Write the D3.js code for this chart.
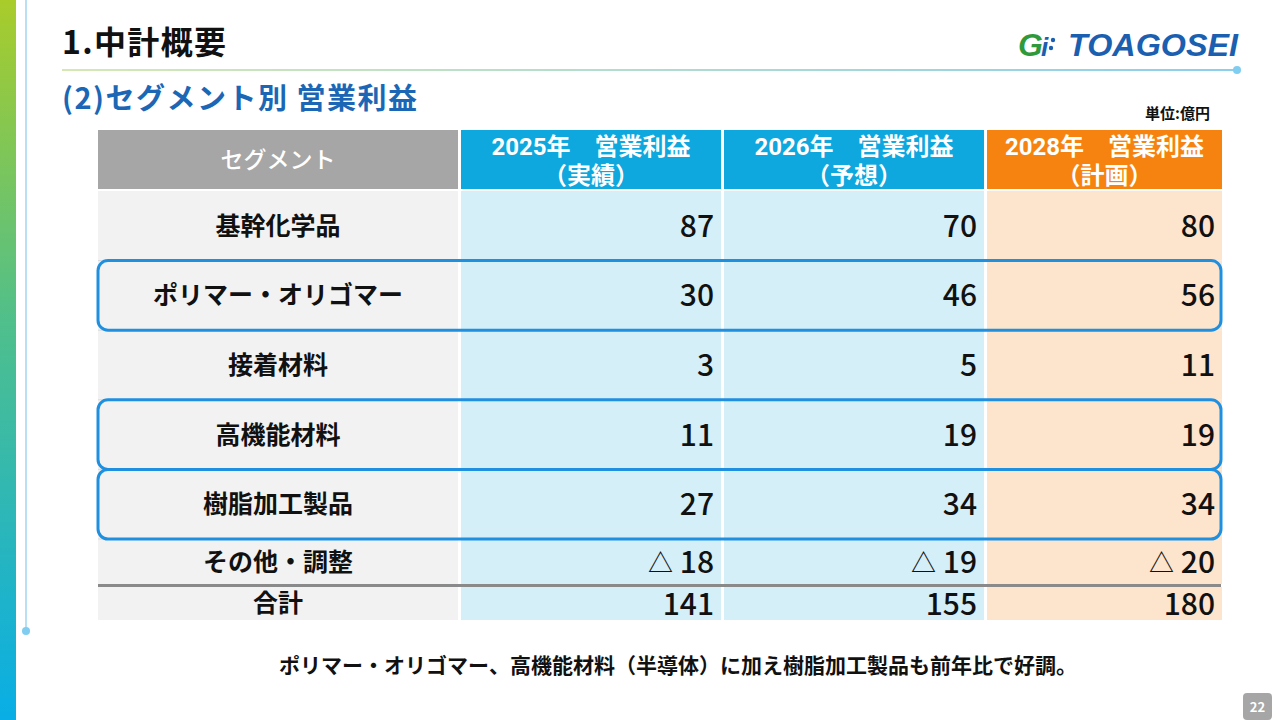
<!DOCTYPE html>
<html>
<head>
<meta charset="utf-8">
<script src="https://cdn.jsdelivr.net/npm/d3@7"></script>
<style>
  html, body { margin: 0; padding: 0; background: #fff; }
  svg { display: block; font-family: "Noto Sans CJK JP", "Noto Sans", sans-serif; }
</style>
</head>
<body>
<div id="slide"></div>
<script>
const W = 1280;
const H = 720;

// data
const columns = ["セグメント", "2025年　営業利益", "2026年　営業利益", "2028年　営業利益"];
const columnNotes = ["", "（実績）", "（予想）", "（計画）"];
const segments = ["基幹化学品", "ポリマー・オリゴマー", "接着材料", "高機能材料", "樹脂加工製品", "その他・調整"];
const profit2025 = [87, 30, 3, 11, 27, -18];
const profit2026 = [70, 46, 5, 19, 34, -19];
const profit2028 = [80, 56, 11, 19, 34, -20];
const totals = [141, 155, 180];
const highlighted = ["ポリマー・オリゴマー", "高機能材料", "樹脂加工製品"];

const svg = d3.select("#slide")
    .append("svg")
    .attr("width", W)
    .attr("height", H);

const defs = svg.append("defs");

// left side bar
const sideGrad = defs.append("linearGradient")
    .attr("id", "side-grad")
    .attr("x1", 0).attr("y1", 0).attr("x2", 0).attr("y2", 1);
sideGrad.append("stop").attr("offset", "0%").attr("stop-color", "#a9cc2a");
sideGrad.append("stop").attr("offset", "45%").attr("stop-color", "#4fbf8c");
sideGrad.append("stop").attr("offset", "100%").attr("stop-color", "#08aee6");

svg.append("rect")
    .attr("x", 0).attr("y", 0)
    .attr("width", 16).attr("height", H)
    .attr("fill", "url(#side-grad)");

svg.append("line")
    .attr("x1", 26).attr("x2", 26)
    .attr("y1", 0).attr("y2", 631)
    .attr("stroke", "#9fd6f0").attr("stroke-width", 1.5);
svg.append("circle")
    .attr("cx", 26).attr("cy", 631).attr("r", 4)
    .attr("fill", "#7fcdf0");

// title area
svg.append("text")
    .attr("x", 62).attr("y", 54)
    .attr("font-size", 32).attr("font-weight", 700)
    .attr("fill", "#111")
    .attr("textLength", 164)
    .text("1.中計概要");

const ruleGrad = defs.append("linearGradient").attr("id", "rule-grad");
ruleGrad.append("stop").attr("offset", "0%").attr("stop-color", "#d4e8b4");
ruleGrad.append("stop").attr("offset", "100%").attr("stop-color", "#8bcfec");

svg.append("rect")
    .attr("x", 62).attr("y", 69)
    .attr("width", 1175).attr("height", 2)
    .attr("fill", "url(#rule-grad)");
svg.append("circle")
    .attr("cx", 1237).attr("cy", 70).attr("r", 4)
    .attr("fill", "#7fcdf0");

svg.append("text")
    .attr("x", 62).attr("y", 109)
    .attr("font-size", 29).attr("font-weight", 700)
    .attr("fill", "#1b67b5")
    .attr("textLength", 355)
    .text("(2)セグメント別 営業利益");

// logo
const logo = svg.append("g");
const mark = logo.append("text")
    .attr("x", 1018).attr("y", 56)
    .attr("font-family", "Liberation Sans")
    .attr("font-weight", 700).attr("font-style", "italic");
mark.append("tspan").attr("font-size", 32).attr("fill", "#2e9a3c").text("G");
mark.append("tspan").attr("font-size", 26).attr("fill", "#1a5fb0").attr("dx", -2).text("i");
logo.append("circle")
    .attr("cx", 1053).attr("cy", 40).attr("r", 2.2)
    .attr("fill", "#1a5fb0");
logo.append("circle")
    .attr("cx", 1051).attr("cy", 48).attr("r", 2.2)
    .attr("fill", "#1a5fb0");
logo.append("text")
    .attr("x", 1068).attr("y", 56)
    .attr("font-family", "Liberation Sans")
    .attr("font-size", 31).attr("font-weight", 700).attr("font-style", "italic")
    .attr("fill", "#1a5fb0")
    .attr("textLength", 170)
    .attr("lengthAdjust", "spacingAndGlyphs")
    .text("TOAGOSEI");

svg.append("text")
    .attr("x", 1210).attr("y", 119)
    .attr("text-anchor", "end")
    .attr("font-size", 15).attr("font-weight", 700)
    .attr("fill", "#111")
    .text("単位:億円");

// table layout
const colLeft = d3.scaleOrdinal().domain(d3.range(4)).range([98, 461, 724, 987]);
const colWidth = d3.scaleOrdinal().domain(d3.range(4)).range([360, 260, 260, 235]);
const headFill = ["#a6a6a6", "#0ea7de", "#0ea7de", "#f6830f"];
const bodyFill = ["#f2f2f2", "#d5eff9", "#d5eff9", "#fde4cc"];

const headTop = 130, headH = 59;
const mainRows = segments.slice(0, 5);
const rowY = d3.scaleBand().domain(mainRows).range([191, 539]);
const otherTop = 539, otherH = 45;
const totalTop = 587, totalH = 33;

function rowTop(seg) { return mainRows.includes(seg) ? rowY(seg) : otherTop; }
function rowHeight(seg) { return mainRows.includes(seg) ? rowY.bandwidth() : otherH; }

// value text: negatives get a small triangle mark
function writeValue(sel, v) {
    if (v < 0) {
        sel.append("tspan").attr("font-size", 25).attr("dy", -1).text("△");
        sel.append("tspan").attr("dy", 1).text(" " + Math.abs(v));
    } else {
        sel.text(v);
    }
}

const table = svg.append("g");

// header cells
const head = table.selectAll("g.head")
    .data(columns)
    .enter().append("g").attr("class", "head");

head.append("rect")
    .attr("x", (d, i) => colLeft(i))
    .attr("y", headTop)
    .attr("width", (d, i) => colWidth(i))
    .attr("height", headH)
    .attr("fill", (d, i) => headFill[i]);

head.each(function (d, i) {
    const cx = colLeft(i) + colWidth(i) / 2;
    const t = d3.select(this).append("text")
        .attr("text-anchor", "middle")
        .attr("fill", "#fff");
    if (i === 0) {
        t.attr("x", cx).attr("y", headTop + headH / 2 + 8)
            .attr("font-size", 23).attr("font-weight", 500)
            .text(d);
    } else {
        t.attr("font-family", "Roboto, 'Noto Sans CJK JP', sans-serif")
            .attr("font-size", 24).attr("font-weight", 700);
        t.append("tspan").attr("x", cx).attr("y", headTop + 25).text(d);
        t.append("tspan").attr("x", cx).attr("y", headTop + 54).text(columnNotes[i]);
    }
});

// body cells
const series = [segments, profit2025, profit2026, profit2028];

series.forEach((vals, ci) => {
    table.selectAll(null)
        .data(segments)
        .enter().append("rect")
        .attr("x", colLeft(ci))
        .attr("y", d => rowTop(d))
        .attr("width", colWidth(ci))
        .attr("height", d => rowHeight(d))
        .attr("fill", bodyFill[ci]);

    table.selectAll(null)
        .data(segments)
        .enter().append("text")
        .attr("x", ci === 0 ? colLeft(ci) + colWidth(ci) / 2 : colLeft(ci) + colWidth(ci) - 7)
        .attr("y", d => rowTop(d) + rowHeight(d) / 2 + (ci === 0 ? 9 : 11))
        .attr("text-anchor", ci === 0 ? "middle" : "end")
        .attr("font-size", ci === 0 ? 25 : 30)
        .attr("font-weight", ci === 0 ? 700 : 500)
        .attr("fill", "#111")
        .each(function (d, i) {
            if (ci === 0) d3.select(this).text(d);
            else writeValue(d3.select(this), vals[i]);
        });

    // total row
    table.append("rect")
        .attr("x", colLeft(ci))
        .attr("y", totalTop)
        .attr("width", colWidth(ci))
        .attr("height", totalH)
        .attr("fill", bodyFill[ci]);
    table.append("text")
        .attr("x", ci === 0 ? colLeft(ci) + colWidth(ci) / 2 : colLeft(ci) + colWidth(ci) - 7)
        .attr("y", totalTop + totalH / 2 + (ci === 0 ? 8 : 11))
        .attr("text-anchor", ci === 0 ? "middle" : "end")
        .attr("font-size", ci === 0 ? 25 : 30)
        .attr("font-weight", ci === 0 ? 700 : 500)
        .attr("fill", "#111")
        .text(ci === 0 ? "合計" : totals[ci - 1]);
});

// faint separators in segment column
table.selectAll("line.sep")
    .data(segments.slice(1))
    .enter().append("line")
    .attr("class", "sep")
    .attr("x1", colLeft(0)).attr("x2", colLeft(0) + colWidth(0))
    .attr("y1", d => rowTop(d)).attr("y2", d => rowTop(d))
    .attr("stroke", "#d8d8d8").attr("stroke-width", 1);

// total divider
table.append("rect")
    .attr("x", 98).attr("y", 584)
    .attr("width", 1123).attr("height", 3)
    .attr("fill", "#8a8a8a");

// highlight boxes
table.selectAll("rect.hl")
    .data(highlighted)
    .enter().append("rect")
    .attr("class", "hl")
    .attr("x", 98)
    .attr("y", d => rowY(d))
    .attr("width", 1123)
    .attr("height", rowY.bandwidth())
    .attr("rx", 10).attr("ry", 10)
    .attr("fill", "none")
    .attr("stroke", "#1f8fe0")
    .attr("stroke-width", 3);

// footer note
svg.append("text")
    .attr("x", 678).attr("y", 673)
    .attr("text-anchor", "middle")
    .attr("font-size", 21).attr("font-weight", 700)
    .attr("fill", "#111")
    .text("ポリマー・オリゴマー、高機能材料（半導体）に加え樹脂加工製品も前年比で好調。");

// page number
svg.append("rect")
    .attr("x", 1243).attr("y", 693)
    .attr("width", 29).attr("height", 27)
    .attr("rx", 4)
    .attr("fill", "#a6a6a6");
svg.append("text")
    .attr("x", 1257.5).attr("y", 712)
    .attr("text-anchor", "middle")
    .attr("font-size", 13).attr("font-weight", 700)
    .attr("fill", "#fff")
    .text("22");
</script>
</body>
</html>
